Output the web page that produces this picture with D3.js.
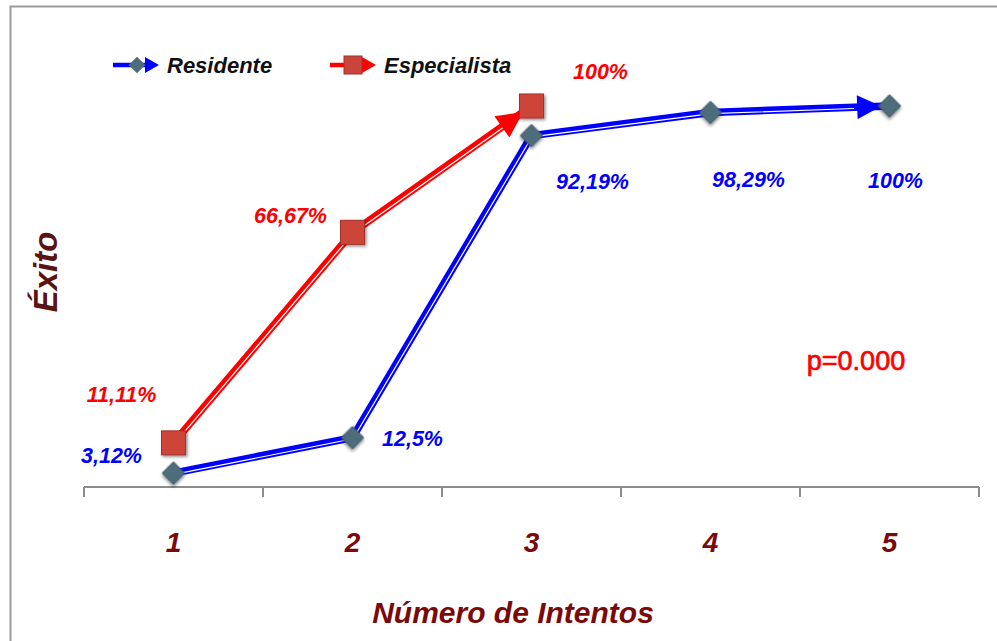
<!DOCTYPE html>
<html>
<head>
<meta charset="utf-8">
<script src="https://cdn.jsdelivr.net/npm/d3@7"></script>
<style>
  html, body { margin: 0; padding: 0; background: #fff; }
  svg { display: block; }
  text { font-family: "Liberation Sans", Arial, sans-serif; }
</style>
</head>
<body>
<svg id="chart" width="997" height="641"></svg>
<script>
// Attempt numbers and success percentages per group
const categories = ["1", "2", "3", "4", "5"];
const residente = [3.12, 12.5, 92.19, 98.29, 100];
const residenteLabels = ["3,12%", "12,5%", "92,19%", "98,29%", "100%"];
const especialista = [11.11, 66.67, 100];
const especialistaLabels = ["11,11%", "66,67%", "100%"];
const seriesNames = ["Residente", "Especialista"];

const svg = d3.select("#chart");

// Panel frame (top and left edges visible)
svg.append("path")
  .attr("d", "M10.5,641 L10.5,6.5 L997,6.5")
  .attr("fill", "none").attr("stroke", "#9a9a9a").attr("stroke-width", 2);

const plot = { left: 84, right: 979, top: 106, bottom: 485 };

const x = d3.scaleBand().domain(categories).range([plot.left, plot.right]);
const y = d3.scaleLinear().domain([0, 100]).range([plot.bottom, plot.top]);
const cx = c => x(c) + x.bandwidth() / 2;

const defs = svg.append("defs");
const shadow = defs.append("filter").attr("id", "shadow")
  .attr("x", "-50%").attr("y", "-50%").attr("width", "200%").attr("height", "200%");
shadow.append("feDropShadow").attr("dx", 1.5).attr("dy", 1.5)
  .attr("stdDeviation", 1.5).attr("flood-color", "#000").attr("flood-opacity", 0.45);

// Arrowhead whose tip stops a little short of the final point
function arrowMarker(id, color, w, h, back) {
  defs.append("marker").attr("id", id)
    .attr("viewBox", "0 0 10 10").attr("refX", 10 + back * 10 / w).attr("refY", 5)
    .attr("markerUnits", "userSpaceOnUse")
    .attr("markerWidth", w).attr("markerHeight", h)
    .attr("orient", "auto")
    .append("path").attr("d", "M0,0 L10,5 L0,10 Z").attr("fill", color);
}
arrowMarker("arrowBlue", "#0000ff", 26, 24, 9);
arrowMarker("arrowRed", "#ff0000", 28, 26, 11);

// X axis with ticks on band boundaries
const axisY = 487;
const axisG = svg.append("g");
axisG.append("line")
  .attr("x1", plot.left).attr("x2", plot.right)
  .attr("y1", axisY).attr("y2", axisY)
  .attr("stroke", "#8c8c8c").attr("stroke-width", 2);
const bounds = categories.map(c => x(c)).concat([plot.right]);
axisG.selectAll("line.tick").data(bounds).join("line")
  .attr("class", "tick")
  .attr("x1", d => d).attr("x2", d => d)
  .attr("y1", axisY).attr("y2", axisY + 10)
  .attr("stroke", "#8c8c8c").attr("stroke-width", 2);
axisG.selectAll("text.tl").data(categories).join("text")
  .attr("class", "tl")
  .attr("x", d => cx(d)).attr("y", 552)
  .attr("text-anchor", "middle")
  .attr("font-size", 28).attr("font-weight", "bold").attr("font-style", "italic")
  .attr("fill", "#7a0a0a")
  .text(d => d);

// Axis titles
svg.append("text")
  .attr("x", 513).attr("y", 623)
  .attr("text-anchor", "middle")
  .attr("font-size", 30).attr("font-weight", "bold").attr("font-style", "italic")
  .attr("fill", "#7a0a0a")
  .text("Número de Intentos");
svg.append("text")
  .attr("transform", "translate(57,272) rotate(-90)")
  .attr("text-anchor", "middle")
  .attr("font-size", 33).attr("font-weight", "bold").attr("font-style", "italic")
  .attr("fill", "#5a1414")
  .text("Éxito");

// Double-stroke line: coloured band with a thin white centre stripe
function drawLine(values, color, markerId) {
  const pts = values.map((v, i) => [cx(categories[i]), y(v)]);
  const line = d3.line();
  svg.append("path").attr("d", line(pts))
    .attr("fill", "none").attr("stroke", color).attr("stroke-width", 7.5)
    .attr("stroke-linejoin", "round")
    .attr("marker-end", `url(#${markerId})`);
  svg.append("path").attr("d", line(pts.slice(0, -1).concat([
      // stop the stripe where the arrowhead begins
      (() => {
        const a = pts[pts.length - 2], b = pts[pts.length - 1];
        const dx = b[0] - a[0], dy = b[1] - a[1], L = Math.hypot(dx, dy);
        const t = (L - 36) / L;
        return [a[0] + dx * t, a[1] + dy * t];
      })()
    ])))
    .attr("fill", "none").attr("stroke", "#ffffff").attr("stroke-width", 1.2)
    .attr("transform", "translate(0.5,1.2)");
  return pts;
}
const ptsR = drawLine(residente, "#0000ff", "arrowBlue");
const ptsE = drawLine(especialista, "#ff0000", "arrowRed");

// Markers
const diamond = d3.symbol().type(d3.symbolSquare).size(250);
svg.append("g").selectAll("path").data(ptsR).join("path")
  .attr("d", diamond)
  .attr("transform", d => `translate(${d[0]},${d[1]}) rotate(45)`)
  .attr("fill", "#4e6d7a").attr("stroke", "#3d5a66").attr("stroke-width", 1)
  .attr("filter", "url(#shadow)");
svg.append("g").selectAll("rect").data(ptsE).join("rect")
  .attr("x", d => d[0] - 12).attr("y", d => d[1] - 12)
  .attr("width", 24).attr("height", 24)
  .attr("fill", "#cc4437").attr("stroke", "#a5312a").attr("stroke-width", 1)
  .attr("filter", "url(#shadow)");

// Value labels
const labelStyle = sel => sel
  .attr("text-anchor", "middle")
  .attr("font-size", 21.5).attr("font-weight", "bold").attr("font-style", "italic");
const rOffsets = [[-62, -10], [60, 8], [61, 53], [38, 75], [6, 82]];
svg.append("g").selectAll("text").data(residenteLabels).join("text")
  .call(labelStyle)
  .attr("x", (d, i) => ptsR[i][0] + rOffsets[i][0])
  .attr("y", (d, i) => ptsR[i][1] + rOffsets[i][1])
  .attr("fill", "#0000ff")
  .text(d => d);
const eOffsets = [[-52, -41], [-62, -9], [69, -27]];
svg.append("g").selectAll("text").data(especialistaLabels).join("text")
  .call(labelStyle)
  .attr("x", (d, i) => ptsE[i][0] + eOffsets[i][0])
  .attr("y", (d, i) => ptsE[i][1] + eOffsets[i][1])
  .attr("fill", "#ff0000")
  .text(d => d);

svg.append("text")
  .attr("x", 856).attr("y", 370)
  .attr("text-anchor", "middle")
  .attr("font-size", 27)
  .attr("fill", "#ff0000").attr("stroke", "#ff0000").attr("stroke-width", 0.7)
  .text("p=0.000");

// Legend
const legend = [
  { name: seriesNames[0], color: "#0000ff", x0: 113, shape: "diamond" },
  { name: seriesNames[1], color: "#ff0000", x0: 330, shape: "square" }
];
const ly = 65;
legend.forEach(l => {
  const g = svg.append("g");
  g.append("line").attr("x1", l.x0).attr("x2", l.x0 + 36)
    .attr("y1", ly).attr("y2", ly)
    .attr("stroke", l.color).attr("stroke-width", 4.5);
  g.append("path")
    .attr("d", `M${l.x0 + 32},${ly - 8} L${l.x0 + 46},${ly} L${l.x0 + 32},${ly + 8} Z`)
    .attr("fill", l.color);
  if (l.shape === "diamond") {
    g.append("path").attr("d", d3.symbol().type(d3.symbolSquare).size(140))
      .attr("transform", `translate(${l.x0 + 24},${ly}) rotate(45)`)
      .attr("fill", "#4e6d7a");
  } else {
    g.append("rect").attr("x", l.x0 + 14).attr("y", ly - 9)
      .attr("width", 18).attr("height", 18)
      .attr("fill", "#c9443a").attr("stroke", "#a5312a");
  }
  g.append("text")
    .attr("x", l.x0 + 54).attr("y", ly + 8)
    .attr("font-size", 22).attr("font-style", "italic").attr("font-weight", "bold")
    .attr("fill", "#111")
    .text(l.name);
});
</script>
</body>
</html>
